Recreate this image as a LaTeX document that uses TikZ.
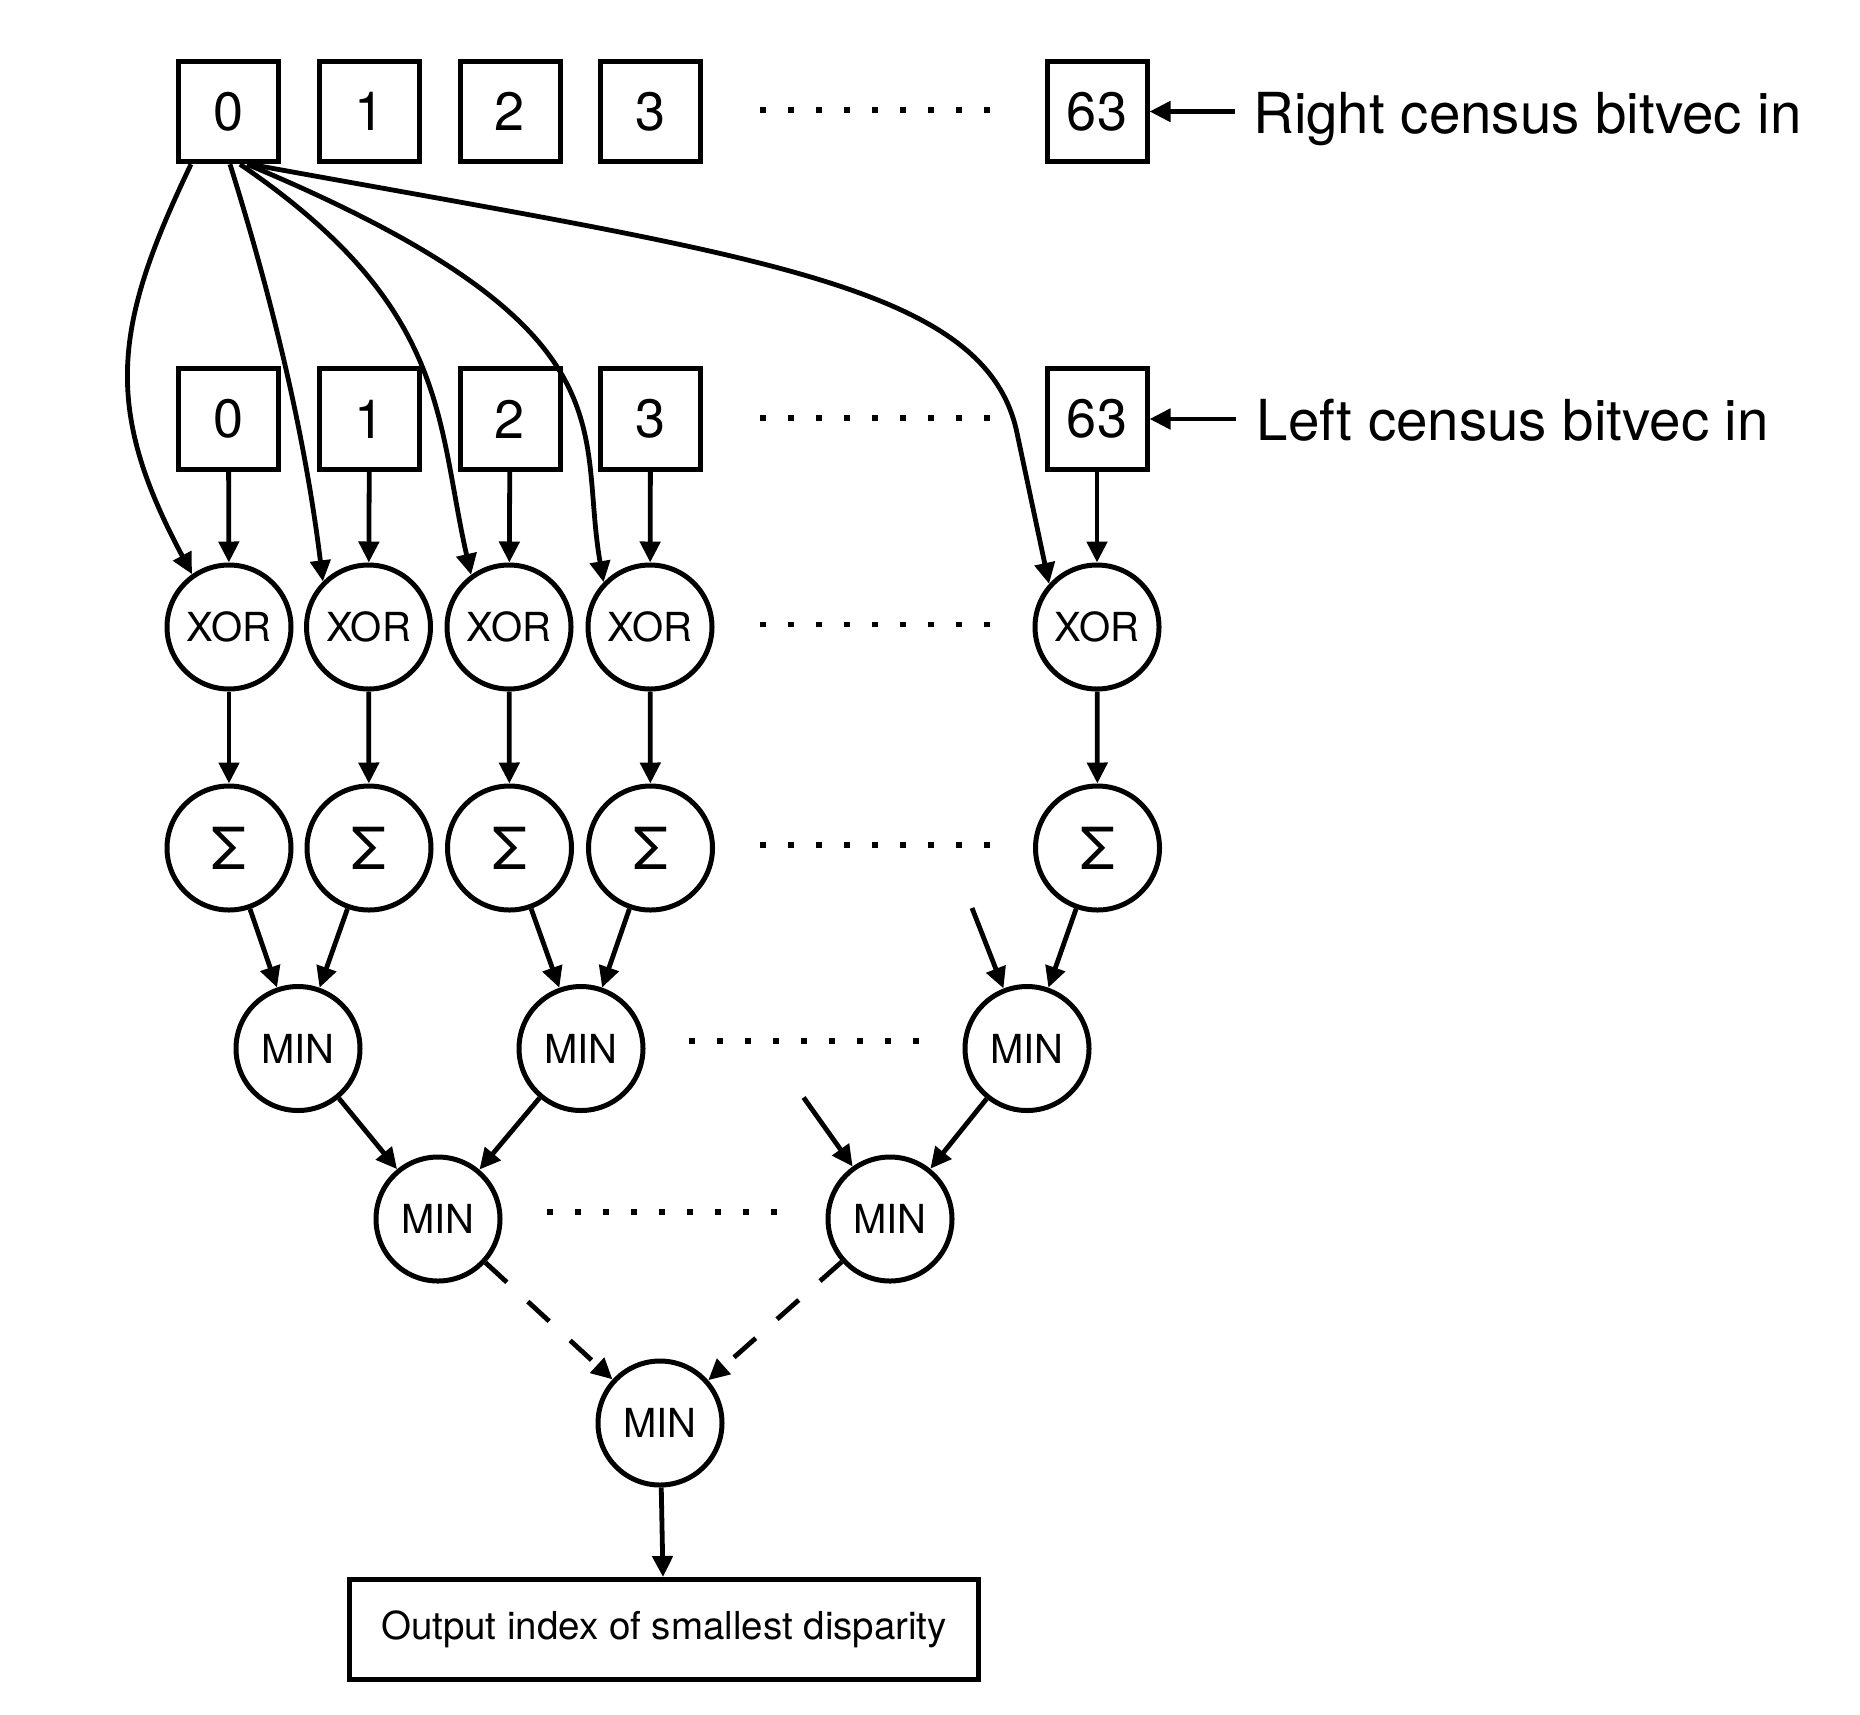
\documentclass[tikz,border=0pt]{standalone}
\usepackage{fontspec}
\setmainfont{TeX Gyre Heros}
\usetikzlibrary{arrows.meta,calc}
\begin{document}
\begin{tikzpicture}[x=1pt,y=-1pt,
  bx/.style={draw, line width=5pt, minimum width=100pt, minimum height=100.5pt, inner sep=0pt, font=\fontsize{54}{60}\selectfont},
  op/.style={draw, circle, line width=5pt, minimum size=124pt, inner sep=0pt, font=\fontsize{40}{46}\selectfont},
  sg/.style={op, font=\fontsize{58}{64}\selectfont},
  outbox/.style={draw, line width=5pt, minimum width=629pt, minimum height=100pt, inner sep=0pt, font=\fontsize{38.5}{44}\selectfont},
  arr/.style={line width=4.8pt, -{Triangle[length=21pt,width=20pt]}},
  darr/.style={arr, dash pattern=on 29pt off 28.5pt},
  dotrow/.style={line width=5.5pt, dash pattern=on 5.5pt off 22.5pt},
  lbl/.style={font=\fontsize{56.5}{62}\selectfont, inner sep=0pt, anchor=base west},
]
\useasboundingbox (0,0) rectangle (1860,1714);

% right census row
\node[bx] (r0) at (228.5,111.5) {0};
\node[bx] (r1) at (369.5,111.5) {1};
\node[bx] (r2) at (510,111.5) {2};
\node[bx] (r3) at (650.5,111.5) {3};
\node[bx] (r63) at (1097,111.5) {63};
\node[lbl] (rt) at (1253,133) {Right census bitvec in};

% left census row
\node[bx] (l0) at (228.5,419) {0};
\node[bx] (l1) at (369.5,419) {1};
\node[bx] (l2) at (510,419) {2};
\node[bx] (l3) at (650.5,419) {3};
\node[bx] (l63) at (1097,419) {63};
\node[lbl] (lt) at (1256.5,440) {Left census bitvec in};

% XOR row
\node[op] (x0) at (229,627) {XOR};
\node[op] (x1) at (368.5,627) {XOR};
\node[op] (x2) at (509,627) {XOR};
\node[op] (x3) at (650,627) {XOR};
\node[op] (x63) at (1097,627) {XOR};

% sum row
\node[sg] (s0) at (229,848) {Σ};
\node[sg] (s1) at (369,848) {Σ};
\node[sg] (s2) at (509.5,848) {Σ};
\node[sg] (s3) at (650.5,848) {Σ};
\node[sg] (s63) at (1097.5,848) {Σ};

% MIN tree
\node[op] (ma) at (298,1048.5) {MIN};
\node[op] (mb) at (581,1048.5) {MIN};
\node[op] (mc) at (1027,1048.5) {MIN};
\node[op] (na) at (438,1219) {MIN};
\node[op] (nb) at (890,1219) {MIN};
\node[op] (fin) at (660,1423) {MIN};
\node[outbox] (out) at (664,1629.5) {Output index of smallest disparity};

% dotted continuations
\draw[dotrow] (760,110) -- (990,110);
\draw[dotrow] (760,418) -- (990,418);
\draw[dotrow] (760,624.5) -- (990,624.5);
\draw[dotrow] (760,845) -- (990,845);
\draw[dotrow] (689,1041) -- (919,1041);
\draw[dotrow] (547,1212) -- (777,1212);

% input arrows
\draw[arr] ($(rt.west |- r63.east)+(-18,0)$) -- (r63.east);
\draw[arr] ($(lt.west |- l63.east)+(-21,0)$) -- (l63.east);

% fan-out from right census bit 0
\draw[arr] ([xshift=-37.5pt]r0.south) .. controls (113.5,326.5) and (102.3,406.5) .. (x0.125);
\draw[arr] ([xshift=1.5pt]r0.south) .. controls (274,305) and (305.3,438) .. (x1.135);
\draw[arr] ([xshift=11.5pt]r0.south) .. controls (450,307) and (436,420) .. (x2.126);
\draw[arr] ([xshift=18.5pt]r0.south) .. controls (639,328) and (576.5,428) .. (x3.136);
\draw[arr] ([xshift=21.5pt]r0.south) .. controls (750,255.5) and (986,283) .. (1017,433) -- (x63.138);

% left census to XOR
\draw[arr] (l0) -- (x0);
\draw[arr] (l1) -- (x1);
\draw[arr] (l2) -- (x2);
\draw[arr] (l3) -- (x3);
\draw[arr] (l63) -- (x63);

% XOR to sum
\draw[arr] (x0) -- (s0);
\draw[arr] (x1) -- (s1);
\draw[arr] (x2) -- (s2);
\draw[arr] (x3) -- (s3);
\draw[arr] (x63) -- (s63);

% sum to MIN
\draw[arr] (s0) -- (ma);
\draw[arr] (s1) -- (ma);
\draw[arr] (s2) -- (mb);
\draw[arr] (s3) -- (mb);
\coordinate (f1) at (972,908);
\draw[arr] (f1) -- (mc);
\draw[arr] (s63) -- (mc);

% MIN to MIN
\draw[arr] (ma) -- (na);
\draw[arr] (mb) -- (na);
\coordinate (f2) at (803.6,1097.5);
\draw[arr] (f2) -- (nb);
\draw[arr] (mc) -- (nb);

\draw[darr] (na) -- (fin);
\draw[darr] (nb) -- (fin);
\draw[arr] (fin) -- (out);
\end{tikzpicture}
\end{document}
